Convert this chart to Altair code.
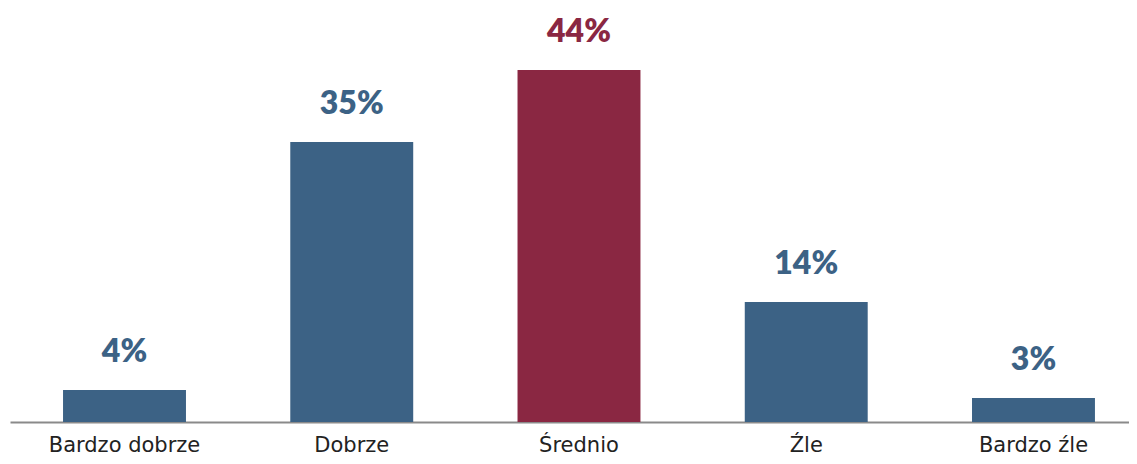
import altair as alt
import pandas as pd

categories = ["Bardzo dobrze", "Dobrze", "Średnio", "Źle", "Bardzo źle"]
values = [4, 35, 44, 15, 3]
labels = ["4%", "35%", "44%", "14%", "3%"]
highlight = [False, False, True, False, False]

df = pd.DataFrame({
    "cat": categories,
    "val": values,
    "label": labels,
    "hl": ["hl" if h else "base" for h in highlight],
})

BLUE = "#3c6285"
RED = "#8a2742"

x = alt.X(
    "cat:N",
    sort=categories,
    title=None,
    scale=alt.Scale(paddingInner=0.459, paddingOuter=0.1916, align=0.609),
    axis=alt.Axis(
        labelAngle=0,
        labelFont="DejaVu Sans",
        labelFontSize=21,
        labelColor="#222222",
        labelBaseline="alphabetic",
        labelPadding=29,
        ticks=False,
        tickSize=0,
        domainColor="#8a8a8a",
        domainWidth=2,
        grid=False,
    ),
)
y = alt.Y("val:Q", scale=alt.Scale(domain=[0, 51], nice=False), axis=None)
color = alt.Color(
    "hl:N",
    scale=alt.Scale(domain=["base", "hl"], range=[BLUE, RED]),
    legend=None,
)

bars = alt.Chart(df).mark_bar().encode(x=x, y=y, color=color)
text = alt.Chart(df).mark_text(
    font="Lato", fontSize=32, fontWeight=800, baseline="alphabetic", dy=-28
).encode(x=x, y=y, text="label:N", color=color)

chart = (
    alt.layer(bars, text)
    .properties(
        width=1119,
        height=408,
        background="white",
        autosize=alt.AutoSizeParams(type="none"),
        padding={"left": 2, "top": 6, "right": 0, "bottom": 34},
    )
    .configure_view(stroke=None, strokeWidth=0)
)

chart.save("out.html", embed_options={"renderer": "svg", "actions": False})
